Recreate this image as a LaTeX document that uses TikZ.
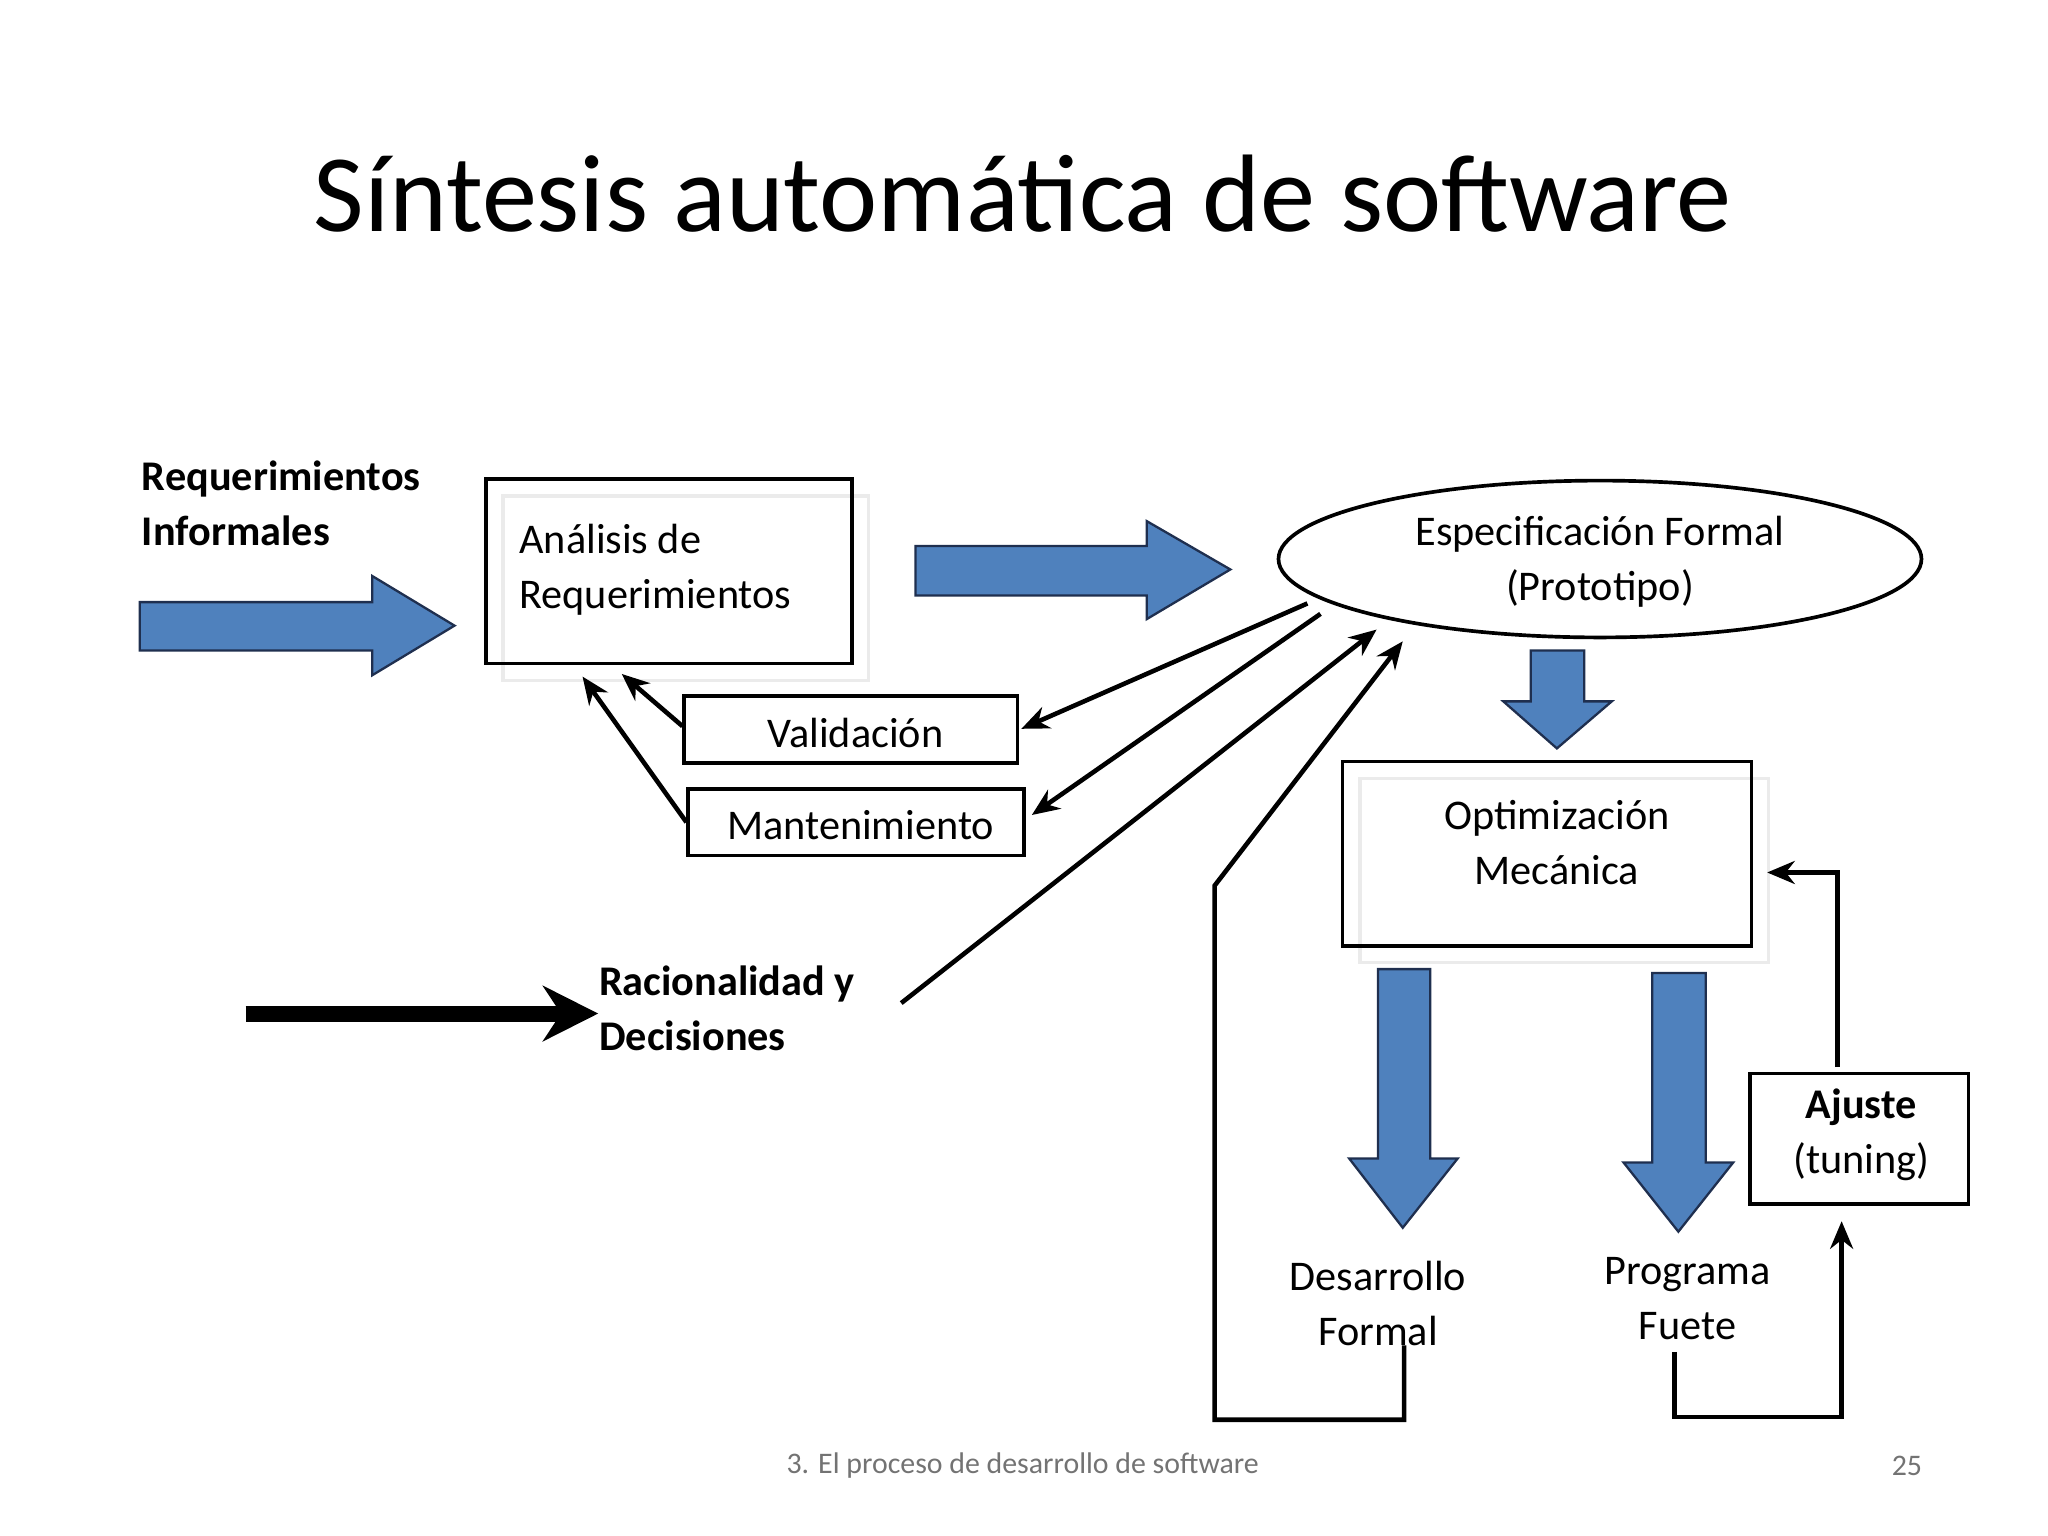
\documentclass[tikz,border=0pt]{standalone}
\usepackage{fontspec}
\setmainfont{Carlito}
\usetikzlibrary{shapes.geometric,arrows.meta}
\definecolor{blu}{HTML}{4F81BD}
\definecolor{navy}{HTML}{1F2F4F}
\tikzset{
 txt/.style={font=\fontsize{9.2}{12}\selectfont,align=center,inner sep=0},
 box/.style={draw,line width=0.8pt},
 shadow/.style={draw=black!8,line width=0.8pt},
 ln/.style={line width=1pt,-{Stealth[length=6pt,width=5pt]}},
 blk/.style={fill=blu,draw=navy,line width=0.5pt}
}
\begin{document}
\begin{tikzpicture}[x=0.01cm,y=-0.01cm]
\useasboundingbox (0,0) rectangle (1568,1176);
\node[font=\fontsize{24}{28}\selectfont] (title) at (783,148) {Síntesis automática de software};
\node[font=\fontsize{6.5}{8}\selectfont,text=black!55] (foot) at (783,1122) {3. El proceso de desarrollo de software};
\node[font=\fontsize{6.5}{8}\selectfont,text=black!55] (pg) at (1460,1122) {25};
% blue arrows
\draw[blk] (107,461) -- (285,461) -- (285,441) -- (348,479) -- (285,517) -- (285,498) -- (107,498) -- cycle;
\draw[blk] (701,418) -- (878,418) -- (878,399) -- (942,436) -- (878,474) -- (878,456) -- (701,456) -- cycle;
\draw[blk] (1172,498) -- (1213,498) -- (1213,537) -- (1234,537) -- (1192,573) -- (1151,537) -- (1172,537) -- cycle;
\draw[blk] (1055,742) -- (1095,742) -- (1095,887) -- (1116,887) -- (1074,940) -- (1033,887) -- (1055,887) -- cycle;
\draw[blk] (1265,745) -- (1306,745) -- (1306,890) -- (1327,890) -- (1285,943) -- (1243,890) -- (1265,890) -- cycle;
% texts
\node[txt,font=\fontsize{9.2}{12}\selectfont\bfseries,align=left,anchor=north west] (req) at (108,352) {Requerimientos\\Informales};
\draw[shadow] (385,380) rectangle (665,521);
\node[box,minimum width=2.8cm,minimum height=1.41cm] (ana) at (512,437.5) {};
\node[txt,align=left,anchor=west] (anat) at (397,436) {Análisis de\\Requerimientos};
\node[draw,ellipse,line width=0.8pt,minimum width=4.92cm,minimum height=1.2cm,inner sep=0] (esp) at (1225,428) {};
\node[txt] (espt) at (1225,430) {Especificación Formal\\(Prototipo)};
\draw[shadow] (1041,596) rectangle (1354,737);
\node[box,minimum width=3.13cm,minimum height=1.41cm] (opt) at (1184.5,653.5) {};
\node[txt] (optt) at (1192,645) {Optimización\\Mecánica};
\node[box,minimum width=2.55cm,minimum height=0.51cm] (val) at (651.5,558.5) {};
\node[txt] at (655,561) {Validación};
\node[box,minimum width=2.57cm,minimum height=0.51cm] (man) at (655.5,629.5) {};
\node[txt] at (659,632) {Mantenimiento};
\node[txt,font=\fontsize{9.2}{12}\selectfont\bfseries,align=left,anchor=north west] (rac) at (458,739) {Racionalidad y\\Decisiones};
\node[txt] (des) at (1055,998) {Desarrollo\\Formal};
\node[txt] (pro) at (1292,994) {Programa\\Fuete};
\node[box,minimum width=1.67cm,minimum height=1cm] (aju) at (1423.5,872) {};
\node[txt] at (1425,869) {\textbf{Ajuste}\\(tuning)};
% connectors
\coordinate (c1) at (1054,482); \coordinate (c0) at (690,768);
\draw[ln] (c0) -- (c1);
\draw[ln] (val.west |- 0,556) -- (476,516);
\draw[ln] (man.west) -- (446,518);
\draw[ln] (1001,462) -- (782,558);
\draw[ln] (1011,470) -- (790,624);
\coordinate (k0) at (188,776);
\draw[line width=3.5pt,-{Stealth[length=12pt,width=12pt]}] (k0) -- (rac.west |- k0);
\draw[ln] (1075,1030) -- (1075,1087) -- (930,1087) -- (930,678) -- (1074,491);
\draw[ln] (1282,1035) -- (1282,1085) -- (1410,1085) -- (1410,935);
\draw[ln] (1407,817) -- (1407,668) -- (1353,668);
\end{tikzpicture}
\end{document}
